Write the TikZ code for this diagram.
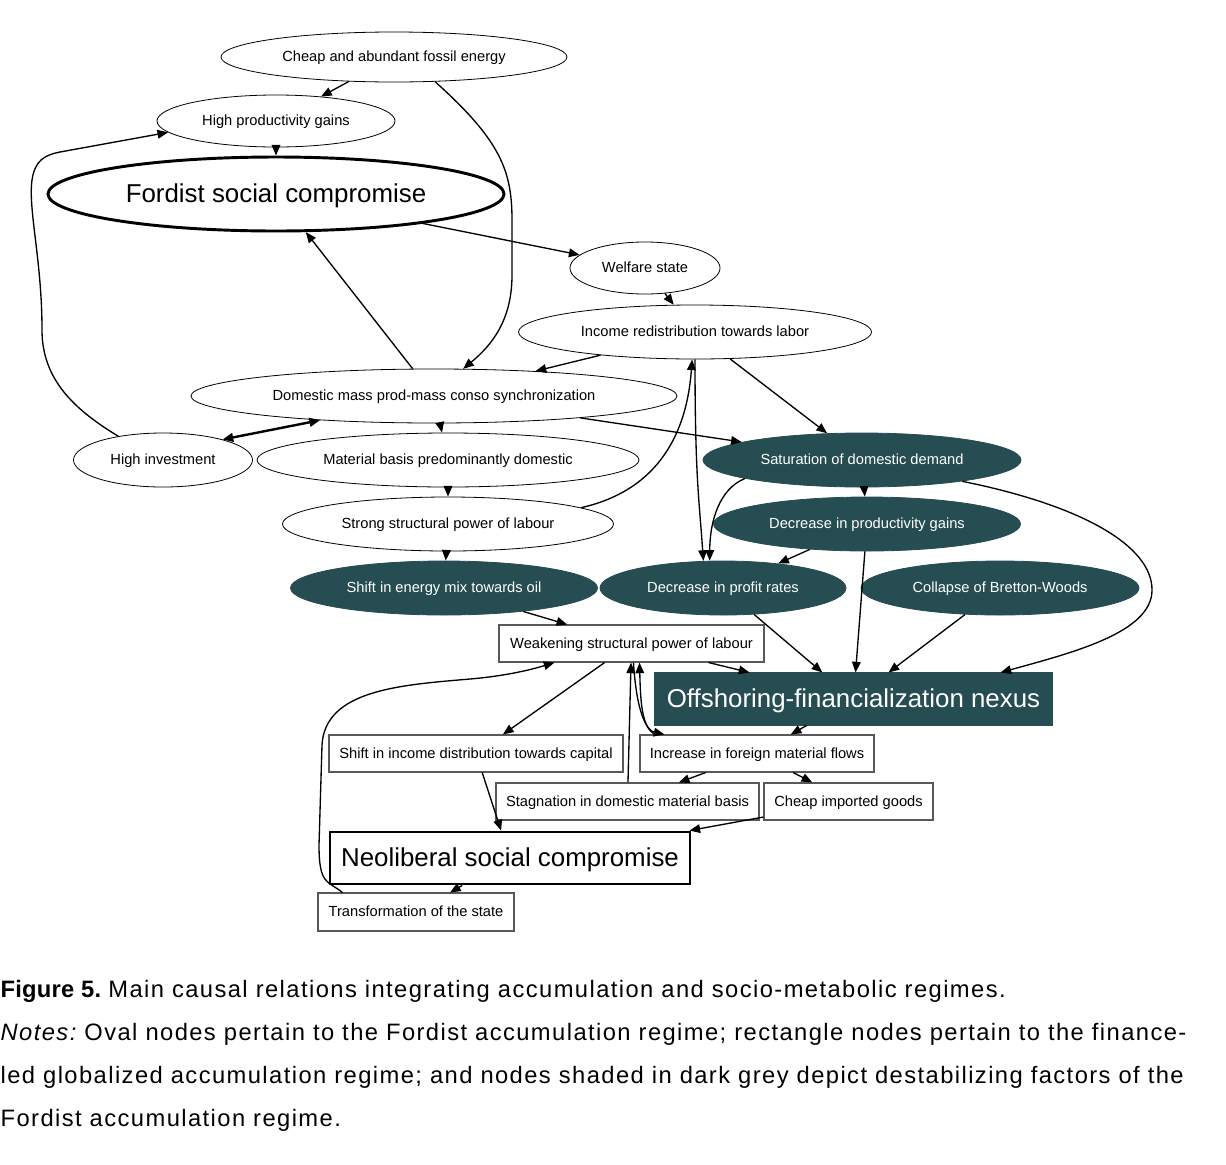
\documentclass[tikz,border=0pt]{standalone}
\usepackage{fontspec}
\setmainfont{Liberation Sans}
\newfontfamily\capfont[LetterSpace=6]{Liberation Sans}
\newfontfamily\capboldfont[LetterSpace=1]{Liberation Sans}
\usetikzlibrary{shapes.geometric, arrows.meta, calc}
\definecolor{darkteal}{RGB}{38,77,82}

\begin{document}
\begin{tikzpicture}[
x=0.75pt, y=-0.75pt,
>={Triangle[length=8pt,width=6.5pt]},
line width=1pt,
oval/.style={ellipse, draw=black, line width=0.6pt, inner sep=0pt, text height=8.2pt, text depth=0.9pt, font=\fontsize{11}{13}\selectfont},
darkoval/.style={oval, draw=darkteal, fill=darkteal, text=white},
rect/.style={rectangle, draw=black!65, line width=0.8pt, inner sep=0pt, text height=8.2pt, text depth=0.9pt, font=\fontsize{11}{13}\selectfont},
dims/.style 2 args={minimum width=#1*0.75pt, minimum height=#2*0.75pt},
bigfont/.style={font=\fontsize{19.4}{23}\selectfont, text height=14pt, text depth=1pt},
captext/.style={anchor=base west, inner sep=0pt, font=\capfont\fontsize{17.8}{20}\selectfont}
]
\useasboundingbox (0,0) rectangle (1226,1164);
%Nodes
\node[oval, dims={346}{50}]      (fossil)      at (394,57)      {Cheap and abundant fossil energy};
\node[oval, dims={238}{52}]      (prodgains)   at (276,121)     {High productivity gains};
\node[oval, bigfont, line width=2.2pt, dims={456}{74}] (fordist) at (276,194) {Fordist social compromise};
\node[oval, dims={150}{52}]      (welfare)     at (645,268)     {Welfare state};
\node[oval, dims={353}{54}]      (income)      at (695,332)     {Income redistribution towards labor};
\node[oval, dims={486}{54}]      (domsync)     at (434,396)     {Domestic mass prod-mass conso synchronization};
\node[oval, dims={179}{54}]      (highinv)     at (163,460)     {High investment};
\node[oval, dims={382}{54}]      (material)    at (448,460)     {Material basis predominantly domestic};
\node[oval, dims={331}{54}]      (strong)      at (448,524)     {Strong structural power of labour};
\node[darkoval, dims={318}{54}]  (saturation)  at (862,460)     {Saturation of domestic demand};
\node[darkoval, dims={307}{54}]  (decprod)     at (867,524)     {Decrease in productivity gains};
\node[darkoval, dims={307}{54}]  (energymix)   at (444,588)     {Shift in energy mix towards oil};
\node[darkoval, dims={246}{54}]  (profit)      at (723,588)     {Decrease in profit rates};
\node[darkoval, dims={278}{54}]  (bretton)     at (1000,588)    {Collapse of Bretton-Woods};
\node[rect, dims={265}{37}]      (weakening)   at (631.5,643.5) {Weakening structural power of labour};
\node[rect, bigfont, draw=darkteal, fill=darkteal, text=white, dims={397}{52}] (offshoring) at (853.5,699) {Offshoring-financialization nexus};
\node[rect, dims={294}{37}]      (shiftincome) at (476,753.5)   {Shift in income distribution towards capital};
\node[rect, dims={234}{37}]      (foreign)     at (757,753.5)   {Increase in foreign material flows};
\node[rect, dims={263}{37}]      (stagnation)  at (627.5,801.5) {Stagnation in domestic material basis};
\node[rect, dims={169}{37}]      (cheapgoods)  at (848.5,801.5) {Cheap imported goods};
\node[rect, bigfont, draw=black, line width=2.2pt, dims={360}{52}] (neoliberal) at (510,858) {Neoliberal social compromise};
\node[rect, dims={196}{38}]      (transform)   at (416,912)     {Transformation of the state};
%Lines
\draw[->] (fossil) -- (prodgains);
\draw[->] (fossil.-31) .. controls (500,140) and (512,170) .. (512,220) -- (512,275) .. controls (512,320) and (492,345) .. (domsync.43);
\draw[->] (prodgains) -- (fordist);
\draw[->] (fordist) -- (welfare);
\draw[->] (welfare) -- (income);
\draw[->] (income) -- (domsync);
\draw[->] (domsync) -- (fordist);
\draw[->] (highinv.152) .. controls (75,410) and (42,380) .. (42,330) .. controls (42,260) and (28,210) .. (32,180) .. controls (35,160) and (45,155) .. (60,152) -- (prodgains.186);
\draw[<->, line width=1.8pt] (highinv.19) -- (domsync.192);
\draw[->] (domsync) -- (material);
\draw[->] (domsync) -- (saturation);
\draw[->] (income) -- (saturation);
\draw[->] (material) -- (strong);
\draw[->] (strong.7) .. controls +(80,-18) and +(-5,70) .. (income.-96);
\draw[->] (income.south) .. controls +(0,120) and +(-4,-60) .. (profit.126);
\draw[->] (saturation.189) .. controls +(-25,10) and +(0,-40) .. (profit.116);
\draw[->] (saturation) -- (decprod);
\draw[->] (saturation.-12) .. controls (1080,505) and (1152,545) .. (1152,590) .. controls (1152,632) and (1075,652) .. ($(offshoring.north east)+(-52,0)$);
\draw[->] (decprod) -- (profit);
\draw[->] (decprod) -- (offshoring);
\draw[->] (strong) -- (energymix);
\draw[->] (energymix) -- (weakening);
\draw[->] (profit) -- (offshoring);
\draw[->] (bretton) -- (offshoring);
\draw[->] ($(weakening.south east)+(-56,0)$) -- ($(offshoring.north west)+(95,0)$);
\draw[->] (weakening) -- (shiftincome);
\draw[->] (stagnation) -- (weakening);
\draw[->] ($(weakening.south)+(2,0)$) .. controls +(3,50) and +(-18,-4) .. ($(foreign.north west)+(25,0)$);
\draw[->] ($(foreign.north west)+(16,0)$) .. controls +(-14,-6) and +(1,38) .. ($(weakening.south)+(8,0)$);
\draw[->] (offshoring) -- (foreign);
\draw[->] (foreign) -- (stagnation);
\draw[->] (foreign) -- (cheapgoods);
\draw[->] (shiftincome) -- (neoliberal);
\draw[->] (cheapgoods) -- ($(neoliberal.north east)+(-2,0)$);
\draw[->] (neoliberal) -- (transform);
\draw[->] ($(transform.north west)+(25,0)$) .. controls +(-15,-12) and +(0,40) .. (319,845) -- (322,745) .. controls (325,690) and (400,685) .. (470,679) .. controls (505,676) and (530,670) .. ($(weakening.south west)+(56,0)$);
%Caption
\node[captext] (figlabel) at (0,997)  {{\capboldfont\bfseries Figure 5.}\hspace{0.3em}Main causal relations integrating accumulation and socio-metabolic regimes.};
\node[captext] (notesa)   at (0,1040) {\textit{Notes:}\hspace{0.28em}Oval nodes pertain to the Fordist accumulation regime; rectangle nodes pertain to the finance-};
\node[captext] (notesb)   at (0,1083) {led globalized accumulation regime; and nodes shaded in dark grey depict destabilizing factors of the};
\node[captext] (notesc)   at (0,1126) {Fordist accumulation regime.};
\end{tikzpicture}
\end{document}
